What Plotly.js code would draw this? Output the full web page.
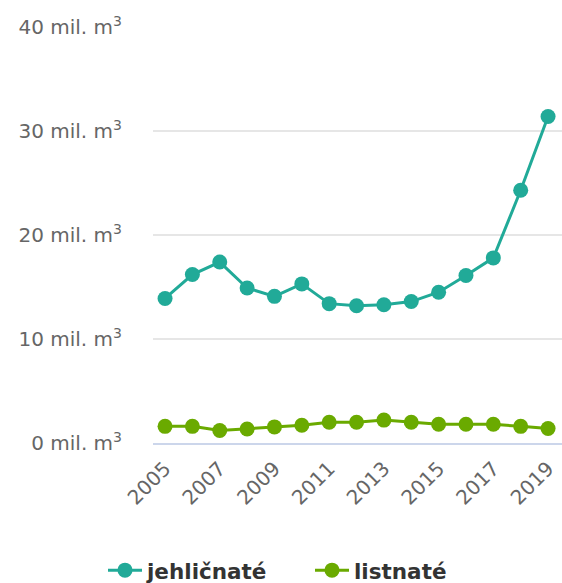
<!DOCTYPE html>
<html><head><meta charset="utf-8">
<script src="https://cdn.plot.ly/plotly-3.0.1.min.js"></script>
<style>html,body{margin:0;padding:0;background:#fff}#chart{width:562px;height:583px}</style>
</head><body><div id="chart"></div>
<script>
const years = [2005,2006,2007,2008,2009,2010,2011,2012,2013,2014,2015,2016,2017,2018,2019];
const jehlicnate = [13.9,16.2,17.4,14.9,14.1,15.3,13.4,13.2,13.3,13.6,14.5,16.1,17.8,24.3,31.4];
const listnate = [1.6,1.6,1.2,1.35,1.55,1.7,2.0,2.0,2.2,2.0,1.8,1.8,1.8,1.6,1.4];
const yTickVals = [0,10,20,30,40];
const yTickText = yTickVals.map(v => v + ' mil. m<sup>3</sup>');
const xTickVals = [2005,2007,2009,2011,2013,2015,2017,2019];

const font = "DejaVu Sans, sans-serif";
const traces = [
  {x: years, y: jehlicnate, name: 'jehličnaté', type: 'scatter', mode: 'lines+markers', legend: 'legend',
   line: {color: '#21aa98', width: 3}, marker: {color: '#21aa98', size: 15}},
  {x: years, y: listnate, name: 'listnaté', type: 'scatter', mode: 'lines+markers', legend: 'legend2',
   line: {color: '#6aaa00', width: 3}, marker: {color: '#6aaa00', size: 15}}
];
const legendFont = {family: font, size: 21.5, color: '#333', weight: 'bold'};
const layout = {
  width: 562, height: 583,
  margin: {l: 153, r: 0, t: 27, b: 140},
  paper_bgcolor: '#fff', plot_bgcolor: '#fff',
  font: {family: font, size: 20, color: '#666'},
  showlegend: true,
  legend: {orientation: 'h', xref: 'container', x: 103/562, xanchor: 'left', yref: 'container', y: 0.022, yanchor: 'middle',
    itemwidth: 34, font: legendFont},
  legend2: {orientation: 'h', xref: 'container', x: 310/562, xanchor: 'left', yref: 'container', y: 0.022, yanchor: 'middle',
    itemwidth: 34, font: legendFont},
  xaxis: {range: [2004.56, 2019.51], tickvals: xTickVals, ticktext: xTickVals.map(String),
    tickangle: -45, showgrid: false, zeroline: false, showline: true, linecolor: '#ccd6eb', linewidth: 2,
    ticks: '', ticklabelstandoff: 4, tickfont: {family: font, size: 20, color: '#666'}, fixedrange: true},
  yaxis: {range: [0, 40], tickvals: yTickVals, ticktext: yTickText, showgrid: true, gridcolor: '#e6e6e6', gridwidth: 2,
    zeroline: false, ticks: '', ticklabelstandoff: 30, tickfont: {family: font, size: 20, color: '#666'}, fixedrange: true}
};
Plotly.newPlot('chart', traces, layout, {displayModeBar: false, staticPlot: true});
</script></body></html>
